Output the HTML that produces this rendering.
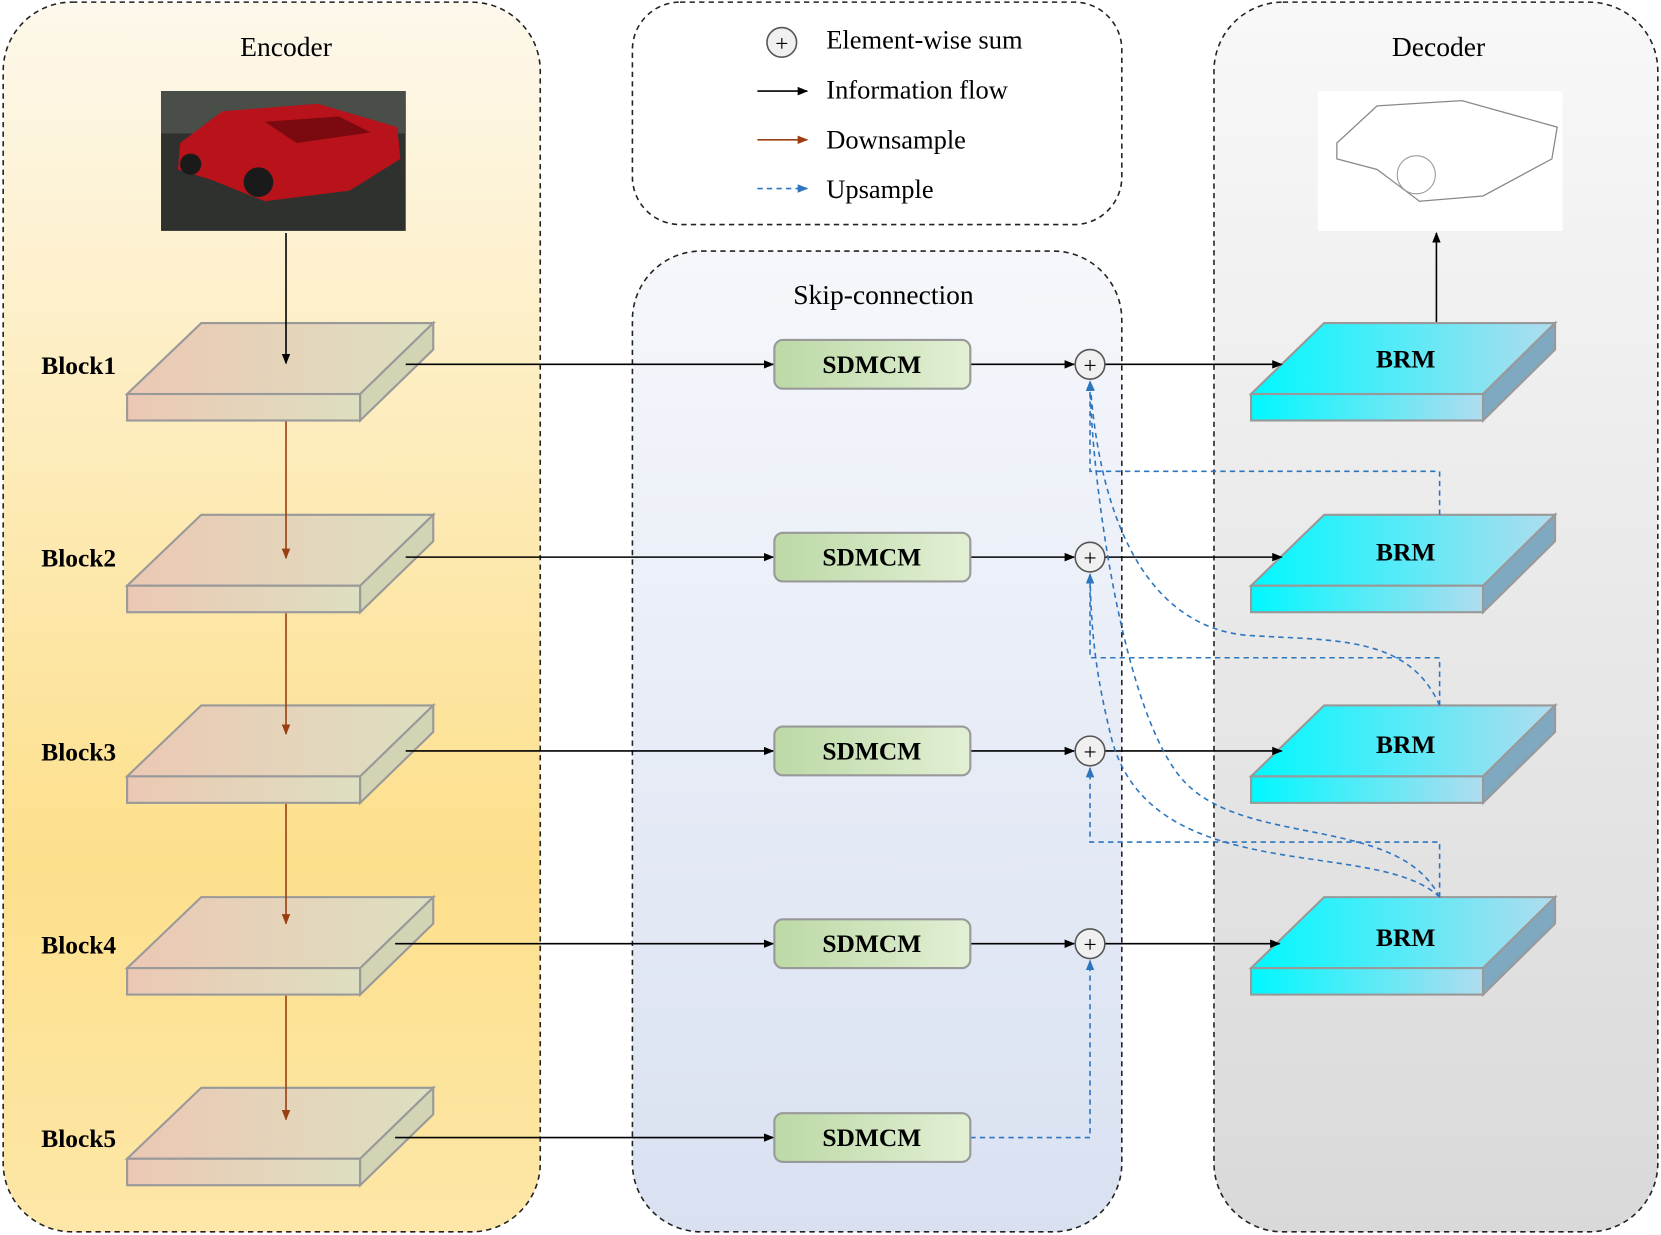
<!DOCTYPE html>
<html><head><meta charset="utf-8"><style>html,body{margin:0;padding:0;background:#fff}svg{display:block}text{font-family:"Liberation Serif",serif}</style></head><body>
<svg width="1661" height="1235" viewBox="0 0 1568 1166" preserveAspectRatio="none" xmlns="http://www.w3.org/2000/svg">
<defs>
<linearGradient id="enc" x1="0" y1="0" x2="0" y2="1"><stop offset="0" stop-color="#fdf8ec"/><stop offset="0.7" stop-color="#fde08c"/><stop offset="1" stop-color="#fde7a8"/></linearGradient>
<linearGradient id="skip" x1="0" y1="0" x2="0" y2="1"><stop offset="0" stop-color="#f5f7fb"/><stop offset="1" stop-color="#d9e1f1"/></linearGradient>
<linearGradient id="dec" x1="0" y1="0" x2="0" y2="1"><stop offset="0" stop-color="#f8f8f8"/><stop offset="1" stop-color="#d9d9d9"/></linearGradient>
<linearGradient id="blk" x1="0" y1="0" x2="1" y2="0"><stop offset="0" stop-color="#ecc8b4"/><stop offset="1" stop-color="#dddfc0"/></linearGradient>
<linearGradient id="brm" x1="0" y1="0" x2="1" y2="0"><stop offset="0" stop-color="#00f8ff"/><stop offset="1" stop-color="#b0dcee"/></linearGradient>
<linearGradient id="sd" x1="0" y1="0" x2="1" y2="0"><stop offset="0" stop-color="#bcd9a6"/><stop offset="1" stop-color="#e2efd4"/></linearGradient>
<marker id="ak" markerWidth="10" markerHeight="8" refX="9" refY="4" orient="auto" markerUnits="userSpaceOnUse"><path d="M0,0L10,4L0,8z" fill="#000"/></marker>
<marker id="ab" markerWidth="10" markerHeight="8" refX="9" refY="4" orient="auto" markerUnits="userSpaceOnUse"><path d="M0,0L10,4L0,8z" fill="#9a3d10"/></marker>
<marker id="au" markerWidth="10" markerHeight="8" refX="9" refY="4" orient="auto" markerUnits="userSpaceOnUse"><path d="M0,0L10,4L0,8z" fill="#2e75c0"/></marker>
<g id="blkg"><path d="M120,67L190,0L409,0L340,67z" fill="url(#blk)" stroke="#999" stroke-width="2"/><rect x="120" y="67" width="220" height="25" fill="url(#blk)" stroke="#999" stroke-width="2"/><path d="M340,67L409,0L409,25L340,92z" fill="#d3d4b4" stroke="#999" stroke-width="2"/></g>
<g id="brmg"><path d="M1181,67L1250,0L1468,0L1400,67z" fill="url(#brm)" stroke="#999" stroke-width="2"/><rect x="1181" y="67" width="219" height="25" fill="url(#brm)" stroke="#999" stroke-width="2"/><path d="M1400,67L1468,0L1468,25L1400,92z" fill="#7fa9c0" stroke="#999" stroke-width="2"/></g>
</defs>
<rect x="3" y="2" width="507" height="1161" rx="65" fill="url(#enc)" stroke="#222" stroke-width="1.5" stroke-dasharray="5,4"/>
<rect x="597" y="237" width="462" height="926" rx="65" fill="url(#skip)" stroke="#222" stroke-width="1.5" stroke-dasharray="5,4"/>
<rect x="597" y="2" width="462" height="210" rx="45" fill="#fff" stroke="#222" stroke-width="1.5" stroke-dasharray="5,4"/>
<rect x="1146" y="2" width="419" height="1161" rx="65" fill="url(#dec)" stroke="#222" stroke-width="1.5" stroke-dasharray="5,4"/>
<g font-size="26" fill="#000"><text x="270" y="53" text-anchor="middle">Encoder</text><text x="834" y="287" text-anchor="middle">Skip-connection</text><text x="1358" y="53" text-anchor="middle">Decoder</text></g>
<g font-size="25" fill="#000"><text x="780" y="46">Element-wise sum</text><text x="780" y="93">Information flow</text><text x="780" y="140">Downsample</text><text x="780" y="187">Upsample</text></g>
<circle cx="738" cy="40" r="14" fill="#f0f0f0" stroke="#555" stroke-width="1.5"/><text x="738" y="48" font-size="22" text-anchor="middle">+</text>
<line x1="715" y1="86" x2="762" y2="86" stroke="#000" stroke-width="1.5" marker-end="url(#ak)"/>
<line x1="715" y1="132" x2="762" y2="132" stroke="#9a3d10" stroke-width="1.5" marker-end="url(#ab)"/>
<line x1="715" y1="178" x2="762" y2="178" stroke="#2e75c0" stroke-width="1.5" stroke-dasharray="5,4" marker-end="url(#au)"/>
<rect x="152" y="86" width="231" height="132" fill="#2f312f"/><rect x="152" y="86" width="231" height="40" fill="#4a4e48"/>
<path d="M170,135L210,105L300,98L375,120L378,150L330,180L250,190L200,170L168,160z" fill="#b8121a"/><path d="M250,115L320,110L350,125L280,135z" fill="#7a0a10"/><circle cx="244" cy="172" r="14" fill="#1a1a1a"/><circle cx="180" cy="155" r="10" fill="#1a1a1a"/>
<rect x="1244" y="86" width="231" height="132" fill="#fff"/>
<path d="M1262,135L1300,100L1380,95L1470,120L1465,150L1400,185L1340,190L1300,160L1262,150z" fill="none" stroke="#888" stroke-width="1.2"/><circle cx="1337" cy="165" r="18" fill="none" stroke="#999"/>
<line x1="1356" y1="305" x2="1356" y2="220" stroke="#000" stroke-width="1.5" marker-end="url(#ak)"/>
<g font-size="24" font-weight="bold">
<use href="#blkg" y="305"/><use href="#blkg" y="486"/><use href="#blkg" y="666"/><use href="#blkg" y="847"/><use href="#blkg" y="1027"/>
<text x="39" y="353">Block1</text><text x="39" y="535">Block2</text><text x="39" y="718">Block3</text><text x="39" y="900">Block4</text><text x="39" y="1083">Block5</text>
<use href="#brmg" y="305"/><use href="#brmg" y="486"/><use href="#brmg" y="666"/><use href="#brmg" y="847"/>
<text x="1327" y="347" text-anchor="middle">BRM</text><text x="1327" y="529" text-anchor="middle">BRM</text><text x="1327" y="711" text-anchor="middle">BRM</text><text x="1327" y="893" text-anchor="middle">BRM</text>
</g>
<line x1="270" y1="220" x2="270" y2="343" stroke="#000" stroke-width="1.5" marker-end="url(#ak)"/>
<g stroke="#9a3d10" stroke-width="1.5"><line x1="270" y1="398" x2="270" y2="527" marker-end="url(#ab)"/><line x1="270" y1="579" x2="270" y2="693" marker-end="url(#ab)"/><line x1="270" y1="759" x2="270" y2="872" marker-end="url(#ab)"/><line x1="270" y1="940" x2="270" y2="1057" marker-end="url(#ab)"/></g>
<g stroke="#000" stroke-width="1.5" fill="none">
<line x1="383" y1="344" x2="730" y2="344" marker-end="url(#ak)"/><line x1="383" y1="526" x2="730" y2="526" marker-end="url(#ak)"/><line x1="383" y1="709" x2="730" y2="709" marker-end="url(#ak)"/><line x1="373" y1="891" x2="730" y2="891" marker-end="url(#ak)"/><line x1="373" y1="1074" x2="730" y2="1074" marker-end="url(#ak)"/>
<line x1="916" y1="344" x2="1014" y2="344" marker-end="url(#ak)"/><line x1="916" y1="526" x2="1014" y2="526" marker-end="url(#ak)"/><line x1="916" y1="709" x2="1014" y2="709" marker-end="url(#ak)"/><line x1="916" y1="891" x2="1014" y2="891" marker-end="url(#ak)"/>
<line x1="1043" y1="344" x2="1210" y2="344" marker-end="url(#ak)"/><line x1="1043" y1="526" x2="1210" y2="526" marker-end="url(#ak)"/><line x1="1043" y1="709" x2="1210" y2="709" marker-end="url(#ak)"/><line x1="1043" y1="891" x2="1208" y2="891" marker-end="url(#ak)"/>
</g>
<g stroke="#2e75c0" stroke-width="1.5" fill="none" stroke-dasharray="5,4">
<path d="M1359,486V445H1029V360" marker-end="url(#au)"/>
<path d="M1359,666V621H1029V542" marker-end="url(#au)"/>
<path d="M1359,847V795H1029V725" marker-end="url(#au)"/>
<path d="M916,1074H1029V907" marker-end="url(#au)"/>
<path d="M1359,666C1330,600 1260,605 1180,600C1100,595 1040,520 1029,360" marker-end="url(#au)"/>
<path d="M1359,847C1320,770 1180,800 1120,740C1060,680 1030,450 1029,360"/>
<path d="M1359,847C1300,790 1090,840 1050,700C1035,640 1030,600 1029,542"/>
</g>
<g font-size="24" font-weight="bold">
<rect x="731" y="321" width="185" height="46" rx="8" fill="url(#sd)" stroke="#999" stroke-width="2"/><text x="823" y="352" text-anchor="middle">SDMCM</text>
<rect x="731" y="503" width="185" height="46" rx="8" fill="url(#sd)" stroke="#999" stroke-width="2"/><text x="823" y="534" text-anchor="middle">SDMCM</text>
<rect x="731" y="686" width="185" height="46" rx="8" fill="url(#sd)" stroke="#999" stroke-width="2"/><text x="823" y="717" text-anchor="middle">SDMCM</text>
<rect x="731" y="868" width="185" height="46" rx="8" fill="url(#sd)" stroke="#999" stroke-width="2"/><text x="823" y="899" text-anchor="middle">SDMCM</text>
<rect x="731" y="1051" width="185" height="46" rx="8" fill="url(#sd)" stroke="#999" stroke-width="2"/><text x="823" y="1082" text-anchor="middle">SDMCM</text>
</g>
<g fill="#f0f0f0" stroke="#555" stroke-width="1.5"><circle cx="1029" cy="344" r="14"/><circle cx="1029" cy="526" r="14"/><circle cx="1029" cy="709" r="14"/><circle cx="1029" cy="891" r="14"/></g>
<g font-size="22" text-anchor="middle"><text x="1029" y="352">+</text><text x="1029" y="534">+</text><text x="1029" y="717">+</text><text x="1029" y="899">+</text></g>
</svg>
</body></html>
